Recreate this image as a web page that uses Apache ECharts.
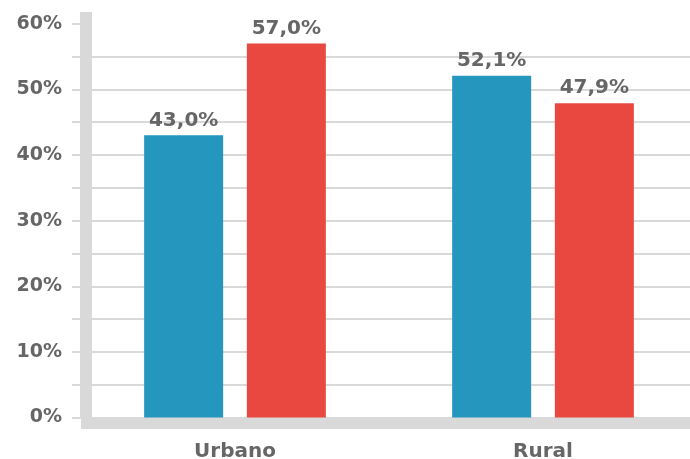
<!DOCTYPE html>
<html>
<head>
<meta charset="utf-8">
<script src="https://cdn.jsdelivr.net/npm/echarts@6/dist/echarts.min.js"></script>
<style>html,body{margin:0;padding:0;background:#fff}#c{width:690px;height:459px}</style>
</head>
<body>
<div id="c"></div>
<script>
const categories = ['Urbano', 'Rural'];
const seriesA = [43.0, 52.1];
const seriesB = [57.0, 47.9];
const tickValues = [0, 5, 10, 15, 20, 25, 30, 35, 40, 45, 50, 55, 60];
const labelValues = [0, 10, 20, 30, 40, 50, 60];

const chart = echarts.init(document.getElementById('c'), null, {renderer: 'canvas'});
const fmt = v => v.toFixed(1).replace('.', ',') + '%';
const labelStyle = {
  show: true, position: 'top', distance: 5,
  fontFamily: 'DejaVu Sans', fontWeight: 'bold', fontSize: 20, color: '#666666',
  formatter: p => fmt(p.value)
};
chart.setOption({
  animation: false,
  grid: {left: 81, width: 616, top: 12, bottom: 41.5, containLabel: false, outerBoundsMode: 'none'},
  xAxis: {
    type: 'category', data: categories, offset: 5.5,
    axisLine: {show: true, onZero: false, lineStyle: {color: '#d9d9d9', width: 12, cap: 'butt'}},
    axisTick: {show: false},
    axisLabel: {margin: 19, fontFamily: 'DejaVu Sans', fontWeight: 'bold', fontSize: 20, color: '#666666'}
  },
  yAxis: {
    type: 'value', min: 0, max: 61.8, offset: -5,
    axisLine: {show: true, onZero: false, lineStyle: {color: '#d9d9d9', width: 12, cap: 'butt'}},
    axisTick: {show: true, inside: false, length: 14, customValues: tickValues, lineStyle: {color: '#d9d9d9', width: 2}},
    axisLabel: {margin: 24, customValues: labelValues, formatter: v => v + '%', fontFamily: 'DejaVu Sans', fontWeight: 'bold', fontSize: 19, color: '#666666'},
    splitLine: {show: true, showMaxLine: false, lineStyle: {color: '#d9d9d9', width: 2}}
  },
  series: [
    {type: 'bar', data: seriesA, barWidth: 79, barGap: '30%', itemStyle: {color: '#2596be'}, label: labelStyle},
    {type: 'bar', data: seriesB, barWidth: 79, barGap: '30%', itemStyle: {color: '#e94841'}, label: labelStyle}
  ]
});
</script>
</body>
</html>
